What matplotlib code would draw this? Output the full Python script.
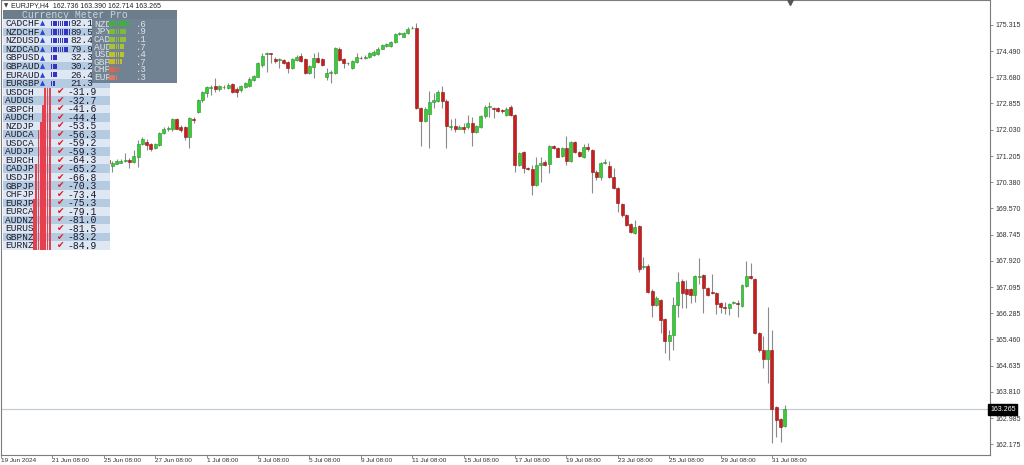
import matplotlib.pyplot as plt
from matplotlib.patches import Rectangle
import numpy as np

# EURJPY H4 candles (bar index 0 = first bar right of the meter panel)
opens = [171.08, 170.89, 170.97, 171.00, 171.06, 171.08, 171.03, 171.19, 171.58, 171.66,
         171.57, 171.45, 171.55, 171.92, 172.06, 172.04, 172.36, 172.13, 172.11, 171.79,
         172.38, 172.60, 172.96, 173.19, 173.35, 173.40, 173.30, 173.36, 173.35, 173.45,
         173.32, 173.28, 173.38, 173.40, 173.59, 173.69, 174.06, 174.40, 174.41, 174.24,
         174.21, 174.22, 174.15, 173.96, 174.22, 174.34, 174.24, 173.82, 174.01, 174.27,
         174.24, 173.67, 173.82, 173.82, 174.57, 174.24, 174.11, 173.96, 174.17, 174.29,
         174.27, 174.30, 174.37, 174.41, 174.57, 174.66, 174.66, 174.79, 175.03, 174.95,
         175.05, 175.21, 175.22, 172.70, 172.30, 172.52, 172.91, 172.94, 173.21, 172.94,
         172.13, 172.15, 172.07, 172.13, 172.11, 172.25, 171.97, 172.13, 172.46, 172.75,
         172.70, 172.70, 172.63, 172.49, 172.73, 172.49, 170.93, 171.32, 170.82, 170.79,
         170.30, 170.93, 171.03, 170.96, 171.52, 171.45, 171.21, 171.45, 171.06, 171.66,
         171.34, 171.17, 171.48, 171.40, 170.72, 170.54, 170.98, 170.89, 170.56, 170.19,
         169.70, 169.36, 169.07, 168.78, 169.01, 167.72, 167.77, 166.98, 166.54, 166.69,
         166.09, 165.42, 165.59, 166.54, 167.30, 167.03, 167.03, 166.85, 167.42, 167.47,
         167.08, 166.95, 166.90, 166.59, 166.48, 166.43, 166.59, 166.61, 166.50, 167.13,
         167.44, 167.34, 165.67, 165.14, 164.83, 165.12, 163.33, 162.95, 162.736]
highs = [171.19, 171.04, 171.10, 171.10, 171.29, 171.13, 171.40, 171.71, 171.79, 171.73,
         171.62, 171.62, 171.97, 172.13, 172.15, 172.39, 172.39, 172.18, 172.15, 172.44,
         172.42, 173.01, 173.26, 173.40, 173.43, 173.64, 173.43, 173.43, 173.51, 173.51,
         173.36, 173.43, 173.53, 173.67, 173.75, 174.14, 174.43, 174.46, 174.45, 174.30,
         174.27, 174.25, 174.20, 174.28, 174.36, 174.45, 174.27, 174.06, 174.45, 174.48,
         174.28, 173.96, 173.90, 174.61, 174.61, 174.27, 174.17, 174.22, 174.43, 174.34,
         174.36, 174.46, 174.53, 174.61, 174.72, 174.76, 174.82, 175.07, 175.11, 175.10,
         175.24, 175.28, 175.39, 172.75, 172.73, 173.26, 173.17, 173.28, 173.40, 172.98,
         172.36, 172.39, 172.17, 172.23, 172.49, 172.44, 172.18, 172.49, 172.81, 172.91,
         172.75, 172.73, 172.69, 172.73, 172.81, 172.52, 171.32, 171.36, 170.85, 170.93,
         171.19, 171.17, 171.08, 171.55, 171.56, 171.48, 171.48, 171.83, 171.69, 171.69,
         171.37, 171.58, 171.63, 171.44, 170.77, 171.01, 171.10, 171.06, 170.82, 170.25,
         169.74, 169.39, 169.11, 169.20, 169.04, 168.05, 167.81, 167.03, 166.82, 166.74,
         166.12, 165.75, 166.80, 167.58, 167.34, 167.32, 167.07, 167.47, 168.00, 167.51,
         167.11, 167.51, 166.94, 166.63, 166.64, 166.61, 166.67, 166.69, 167.19, 167.92,
         167.86, 167.37, 165.70, 165.56, 166.48, 165.75, 163.37, 162.99, 163.390]
lows = [170.87, 170.71, 170.96, 170.98, 171.03, 170.82, 170.98, 170.87, 171.55, 171.40,
        171.37, 171.42, 171.52, 171.89, 172.00, 172.00, 172.04, 171.97, 171.71, 171.45,
        172.23, 172.57, 172.91, 173.07, 173.12, 173.22, 173.26, 173.30, 173.31, 173.19,
        173.07, 173.22, 173.35, 173.38, 173.56, 173.67, 174.01, 173.85, 174.11, 174.13,
        173.96, 174.08, 173.80, 173.92, 174.20, 174.17, 173.78, 173.78, 173.64, 174.11,
        174.03, 173.59, 173.49, 173.78, 174.19, 173.96, 174.06, 173.92, 174.13, 174.24,
        174.24, 174.27, 174.34, 174.37, 174.55, 174.64, 174.64, 174.76, 175.00, 174.93,
        175.03, 175.19, 172.67, 171.52, 172.27, 171.47, 172.70, 172.91, 172.70, 171.45,
        172.02, 171.97, 172.04, 171.92, 172.07, 171.52, 171.94, 172.10, 172.39, 172.44,
        172.39, 172.60, 172.57, 172.46, 172.46, 170.72, 170.89, 170.68, 170.77, 169.98,
        170.27, 170.40, 170.89, 170.66, 171.42, 171.17, 171.19, 170.93, 171.03, 171.31,
        171.19, 171.13, 171.37, 170.04, 170.45, 170.45, 170.95, 170.53, 170.16, 169.46,
        169.30, 169.01, 168.80, 168.75, 167.58, 167.68, 166.90, 166.17, 166.50, 165.65,
        165.02, 164.81, 165.12, 166.17, 166.43, 166.43, 166.59, 166.64, 167.21, 166.29,
        166.82, 166.87, 166.27, 166.29, 166.27, 166.22, 166.56, 166.17, 166.48, 167.11,
        167.34, 165.63, 165.07, 164.55, 164.08, 162.20, 162.41, 162.25, 162.714]
closes = [171.00, 171.00, 171.06, 171.06, 171.08, 171.03, 171.21, 171.58, 171.75, 171.55,
          171.42, 171.57, 171.92, 172.06, 172.10, 172.36, 172.07, 172.02, 171.79, 172.39,
          172.34, 172.96, 173.21, 173.36, 173.38, 173.30, 173.39, 173.38, 173.44, 173.22,
          173.21, 173.39, 173.49, 173.63, 173.72, 174.11, 174.34, 174.42, 174.40, 174.18,
          174.22, 174.11, 173.96, 174.25, 174.32, 174.20, 173.82, 174.03, 174.27, 174.17,
          174.06, 173.80, 173.85, 174.58, 174.22, 174.11, 174.13, 174.20, 174.30, 174.27,
          174.31, 174.43, 174.48, 174.57, 174.68, 174.72, 174.79, 175.03, 175.06, 175.05,
          175.20, 175.23, 172.70, 172.30, 172.67, 172.91, 172.96, 173.21, 172.94, 172.15,
          172.15, 172.06, 172.11, 172.07, 172.25, 171.97, 172.15, 172.46, 172.75, 172.77,
          172.68, 172.63, 172.61, 172.69, 172.49, 170.93, 171.29, 170.82, 170.81, 170.30,
          170.93, 171.00, 170.93, 171.52, 171.45, 171.19, 171.45, 171.06, 171.66, 171.34,
          171.21, 171.50, 171.42, 170.72, 170.54, 170.98, 171.01, 170.56, 170.19, 169.72,
          169.36, 169.04, 168.83, 168.99, 167.68, 167.77, 166.95, 166.54, 166.77, 166.06,
          165.42, 165.59, 166.54, 167.27, 166.92, 166.88, 166.85, 167.44, 167.46, 167.06,
          166.85, 166.90, 166.57, 166.48, 166.44, 166.57, 166.64, 166.58, 167.16, 167.44,
          167.37, 165.65, 165.12, 164.83, 165.12, 163.29, 162.93, 162.72, 163.265]

price_ticks = [175.315, 174.490, 173.680, 172.855, 172.030, 171.205, 170.380, 169.570, 168.745,
               167.920, 167.095, 166.285, 165.460, 164.635, 163.810, 162.985, 162.175]
time_tick_bars = [-25, -13, -1, 11, 23, 35, 47, 59, 71, 83, 95, 107, 119, 131, 143, 155]
time_tick_labels = ['19 Jun 2024', '21 Jun 08:00', '25 Jun 08:00', '27 Jun 08:00', '1 Jul 08:00',
                    '3 Jul 08:00', '5 Jul 08:00', '9 Jul 08:00', '11 Jul 08:00', '15 Jul 08:00',
                    '17 Jul 08:00', '19 Jul 08:00', '23 Jul 08:00', '25 Jul 08:00', '29 Jul 08:00',
                    '31 Jul 08:00']
last_price = 163.265
title = 'EURJPY,H4  162.736 163.390 162.714 163.265'

# Currency Meter Pro panel
pair_names = ['CADCHF', 'NZDCHF', 'NZDUSD', 'NZDCAD', 'GBPUSD', 'GBPAUD', 'EURAUD', 'EURGBP',
              'USDCH', 'AUDUS', 'GBPCH', 'AUDCH', 'NZDJP', 'AUDCA', 'USDCA', 'AUDJP', 'EURCH',
              'CADJP', 'USDJP', 'GBPJP', 'CHFJP', 'EURJP', 'EURCA', 'AUDNZ', 'EURUS', 'GBPNZ',
              'EURNZ']
pair_values = [92.1, 89.5, 82.4, 79.9, 32.3, 30.2, 26.4, 21.3,
               -31.9, -32.7, -41.6, -44.4, -53.5, -56.3, -59.2, -59.3, -64.3,
               -65.2, -66.8, -70.3, -73.4, -75.3, -79.1, -81.0, -81.5, -83.2, -84.9]
currencies = ['NZD', 'JPY', 'CAD', 'AUD', 'USD', 'GBP', 'CHF', 'EUR']
strength_blocks = [10, 8, 8, 7, 7, 6, 5, 4]
strength_text = ['.6', '.9', '.1', '.7', '.4', '.7', '.3', '.3']
strength_colors = ['#3cb43c', '#78bc3c', '#90c03c', '#a8c434', '#bcc42c', '#c8bc28', '#d86848', '#e07860']

fig = plt.figure(figsize=(10.24, 4.65), dpi=100)
ax = fig.add_axes([1 / 1024, 10.5 / 465, 989 / 1024, 454 / 465])

o, h, l, c = map(np.array, (opens, highs, lows, closes))
idx = np.arange(len(o))
up = c >= o
ax.vlines(idx, l, h, color='#8a8a8a', lw=0.8, zorder=2)
bot = np.minimum(o, c)
hgt = np.maximum(np.abs(c - o), 0.025)
ax.bar(idx[up], hgt[up], bottom=bot[up], width=0.7, color='#38cc38', edgecolor='#2a8f2a', lw=0.4, zorder=3)
ax.bar(idx[~up], hgt[~up], bottom=bot[~up], width=0.7, color='#c81e1e', edgecolor='#8c1414', lw=0.4, zorder=3)

ax.axhline(last_price, color='#c4ccd4', lw=0.9, zorder=1)

ax.set_xlim(-25, 205.9)
ax.set_ylim(161.85, 176.083)
for s in ax.spines.values():
    s.set_color('#7c7c7c')
    s.set_linewidth(0.8)

ax.yaxis.tick_right()
ax.set_yticks(price_ticks)
ax.set_yticklabels([f'{p:.3f}' for p in price_ticks], family='Liberation Sans', fontsize=5, color='#303030')
ax.tick_params(axis='y', length=2.5, width=0.6, color='#7c7c7c', pad=1.5)
ax.set_xticks(time_tick_bars)
ax.set_xticklabels(time_tick_labels, family='Liberation Sans', fontsize=4.6, color='#303030', ha='left')
ax.tick_params(axis='x', length=2, width=0.6, color='#7c7c7c', pad=0.4)

ax.text(1.0, last_price, f'{last_price:.3f}', transform=ax.get_yaxis_transform(), ha='left', va='center',
        fontsize=5, family='Liberation Sans', color='white',
        bbox=dict(boxstyle='square,pad=0.25', fc='black', ec='black'))

# overlay in pixel coordinates for the indicator panel
ov = fig.add_axes([0, 0, 1, 1], zorder=10)
ov.set_xlim(0, 1024)
ov.set_ylim(465, 0)
ov.axis('off')
ov.patch.set_alpha(0)

ov.text(4, 5.5, '▼', fontsize=4, color='#404040', va='center', family=['DejaVu Sans'])
ov.text(11, 5.5, title, fontsize=5, color='#202020', va='center', family='Liberation Sans')
ov.plot([790], [2], marker='v', ms=4, color='#555555', clip_on=False)

mono = 'Liberation Mono'
row_h = 8.54
row0 = 23.5
for i, (name, val) in enumerate(zip(pair_names, pair_values)):
    yc = row0 + i * row_h
    bg = '#dfe7f3' if i % 2 == 0 else '#b4cbe2'
    ov.add_patch(Rectangle((3, yc - row_h / 2), 107, row_h, fc=bg, ec='none', zorder=1))
    ov.text(5, yc + 0.3, name, fontsize=6.8, family=mono, color='#1a1a2a', va='center', zorder=2)

for i, (name, val) in enumerate(zip(pair_names, pair_values)):
    yc = row0 + i * row_h
    n = int(round(abs(val) / 10))
    if val > 0:
        ov.text(39.5, yc, '▲', fontsize=4.8, color='#2a44d8', va='center', family=['DejaVu Sans'], zorder=3)
        for j in range(n):
            ov.add_patch(Rectangle((51 + j * 2.2, yc - 2.6), 1.4, 5.2, fc='#3434c4', ec='none', zorder=3))
        ov.text(70, yc + 0.3, f'{val:.1f}', fontsize=6.8, family=mono, color='#1a1a2a', va='center', zorder=3)
    else:
        for j in range(n):
            ov.add_patch(Rectangle((51 - (j + 1) * 2.25, yc - row_h / 2), 1.8, row_h, fc='#e6404e', ec='none', zorder=3))
        ov.text(56.5, yc, '✔', fontsize=6.5, color='#e01818', va='center', family=['DejaVu Sans'], zorder=3)
        ov.text(67, yc + 0.3, f'{val:.1f}', fontsize=7, family=mono, color='#1a1a2a', va='center', zorder=3)

# header and strength box
ov.add_patch(Rectangle((3, 10), 174, 9.5, fc='#6c7d8b', ec='none', zorder=4))
ov.text(22, 14.8, 'Currency Meter Pro', fontsize=7, family=mono, color='#cdd5dc', va='center', zorder=5)
ov.add_patch(Rectangle((92, 19.5), 85, 63.5, fc='#718392', ec='none', zorder=4))
for i, (cur, nb, txt, col) in enumerate(zip(currencies, strength_blocks, strength_text, strength_colors)):
    yc = 24 + i * 7.6
    ov.text(94, yc + 0.3, cur, fontsize=6.8, family=mono, color='#dde3e8', va='center', zorder=5)
    ov.add_patch(Rectangle((108.5, yc - 3.5), 24, 7, fc='#718392', ec='none', zorder=6))
    for j in range(nb):
        ov.add_patch(Rectangle((109 + j * 2.2, yc - 2.5), 1.6, 5, fc=col, ec='none', zorder=7))
    ov.text(136, yc + 0.3, txt, fontsize=6.5, family=mono, color='#dde3e8', va='center', zorder=7)

fig.savefig('out.png', dpi=100)
